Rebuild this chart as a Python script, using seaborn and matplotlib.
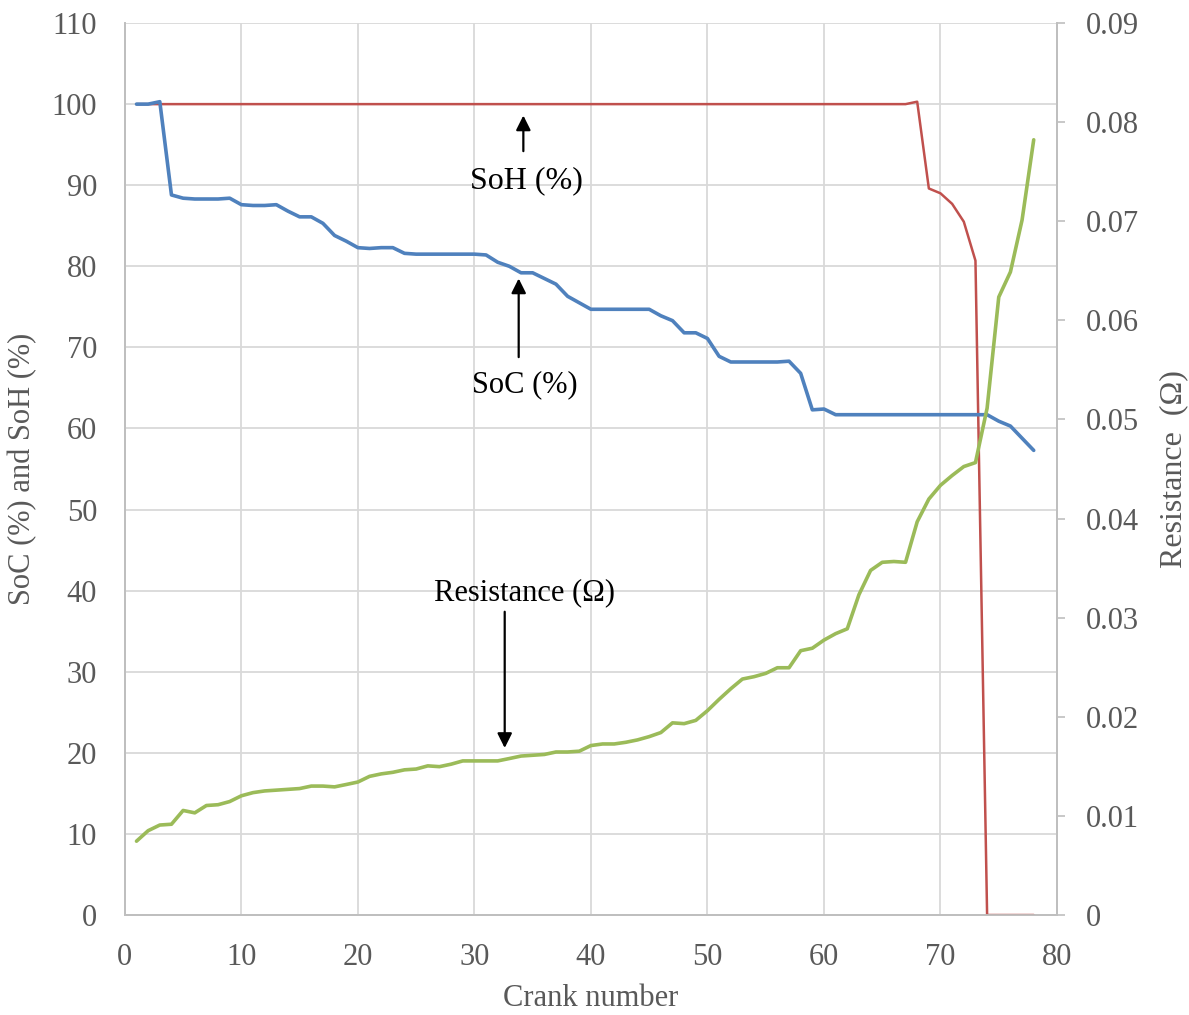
import numpy as np
import pandas as pd
import matplotlib
matplotlib.use("Agg")
import matplotlib.pyplot as plt
import seaborn as sns

crank = list(range(1, 79))

soc = [100, 100, 100.3, 88.8, 88.4, 88.3, 88.3, 88.3, 88.4, 87.6,
       87.5, 87.5, 87.6, 86.8, 86.1, 86.1, 85.3, 83.8, 83.1, 82.3,
       82.2, 82.3, 82.3, 81.6, 81.5, 81.5, 81.5, 81.5, 81.5, 81.5,
       81.4, 80.5, 80.0, 79.2, 79.2, 78.5, 77.8, 76.3, 75.5, 74.7,
       74.7, 74.7, 74.7, 74.7, 74.7, 73.9, 73.3, 71.8, 71.8, 71.1,
       68.9, 68.2, 68.2, 68.2, 68.2, 68.2, 68.3, 66.8, 62.3, 62.4,
       61.7, 61.7, 61.7, 61.7, 61.7, 61.7, 61.7, 61.7, 61.7, 61.7,
       61.7, 61.7, 61.7, 61.7, 60.9, 60.3, 58.8, 57.3]

soh = [100] * 67 + [100.3, 89.6, 89.0, 87.7, 85.5, 80.7, 0, 0, 0, 0, 0]

resistance = [0.00745, 0.00851, 0.00908, 0.00916, 0.01055, 0.01031, 0.01105, 0.01113, 0.01145, 0.01203,
              0.01235, 0.01252, 0.01260, 0.01268, 0.01276, 0.01301, 0.01301, 0.01293, 0.01317, 0.01342,
              0.01399, 0.01424, 0.01440, 0.01465, 0.01473, 0.01505, 0.01497, 0.01522, 0.01555, 0.01555,
              0.01555, 0.01555, 0.01579, 0.01604, 0.01612, 0.01620, 0.01645, 0.01645, 0.01653, 0.01710,
              0.01726, 0.01726, 0.01743, 0.01767, 0.01800, 0.01841, 0.01939, 0.01931, 0.01964, 0.02062,
              0.02176, 0.02283, 0.02381, 0.02405, 0.02438, 0.02495, 0.02495, 0.02667, 0.02692, 0.02774,
              0.02839, 0.02888, 0.03232, 0.03477, 0.03559, 0.03567, 0.03559, 0.03968, 0.04197, 0.04336,
              0.04435, 0.04525, 0.04565, 0.05114, 0.06235, 0.06488, 0.07012, 0.07822]

x_ticks = [0, 10, 20, 30, 40, 50, 60, 70, 80]
left_ticks = list(range(0, 111, 10))
right_ticks = [0, 0.01, 0.02, 0.03, 0.04, 0.05, 0.06, 0.07, 0.08, 0.09]
right_labels = ["0", "0.01", "0.02", "0.03", "0.04", "0.05", "0.06", "0.07", "0.08", "0.09"]

df = pd.DataFrame({"crank": crank, "soc": soc, "soh": soh, "res": resistance})

sns.set_theme(style="white")
plt.rcParams["font.family"] = ["Liberation Serif", "DejaVu Serif"]

fig = plt.figure(figsize=(11.89, 10.15), dpi=100)
ax = fig.add_axes([0.105, 0.0985, 0.784, 0.8788])
ax2 = ax.twinx()

sns.lineplot(data=df, x="crank", y="soh", ax=ax, color="#C0504D", lw=1.8, zorder=3)
sns.lineplot(data=df, x="crank", y="soc", ax=ax, color="#4F81BD", lw=2.6, zorder=4)
sns.lineplot(data=df, x="crank", y="res", ax=ax2, color="#9BBB59", lw=2.6)

grey = "#595959"
ax.set_xlim(0, 80)
ax.set_ylim(0, 110)
ax2.set_ylim(0, 0.09)
ax.set_xticks(x_ticks)
ax.set_yticks(left_ticks)
ax2.set_yticks(right_ticks)
ax2.set_yticklabels(right_labels)

ax.grid(True, color="#D9D9D9", lw=1.3)
ax.set_axisbelow(True)

for sp in ["top"]:
    ax.spines[sp].set_visible(False)
    ax2.spines[sp].set_visible(False)
for sp in ["left", "bottom", "right"]:
    ax.spines[sp].set_color("#BFBFBF")
    ax.spines[sp].set_linewidth(1.3)
    ax2.spines[sp].set_color("#BFBFBF")
    ax2.spines[sp].set_linewidth(1.3)

ax.tick_params(axis="x", length=0, pad=20, labelsize=22, labelcolor=grey)
ax.tick_params(axis="y", length=0, pad=20, labelsize=22, labelcolor=grey)
ax2.tick_params(axis="y", length=6, width=1.2, color="#BFBFBF", direction="out", pad=15,
                labelsize=22, labelcolor=grey, right=True)

ax.set_xlabel("Crank number", fontsize=22, color=grey, labelpad=9)
ax.set_ylabel("SoC (%) and SoH (%)", fontsize=22, color=grey, labelpad=10)
ax2.set_ylabel("Resistance  (Ω)", fontsize=23, color=grey, labelpad=14)

arrow = dict(arrowstyle="-|>", color="black", lw=1.6, mutation_scale=22, shrinkA=0, shrinkB=0)
ax.annotate("", xy=(34.2, 98.6), xytext=(34.2, 94.2), arrowprops=arrow)
ax.text(34.5, 90.6, "SoH (%)", ha="center", va="center", fontsize=23, color="black")
ax.annotate("", xy=(33.8, 78.5), xytext=(33.8, 68.8), arrowprops=arrow)
ax.text(34.3, 65.4, "SoC (%)", ha="center", va="center", fontsize=22, color="black")
ax.text(34.3, 39.7, "Resistance (Ω)", ha="center", va="center", fontsize=22, color="black")
ax.annotate("", xy=(32.6, 20.6), xytext=(32.6, 37.4), arrowprops=arrow)

ax.set_zorder(ax2.get_zorder() - 1)
ax2.patch.set_visible(False)
ax.patch.set_visible(True)

fig.savefig("out.png", dpi=100)
